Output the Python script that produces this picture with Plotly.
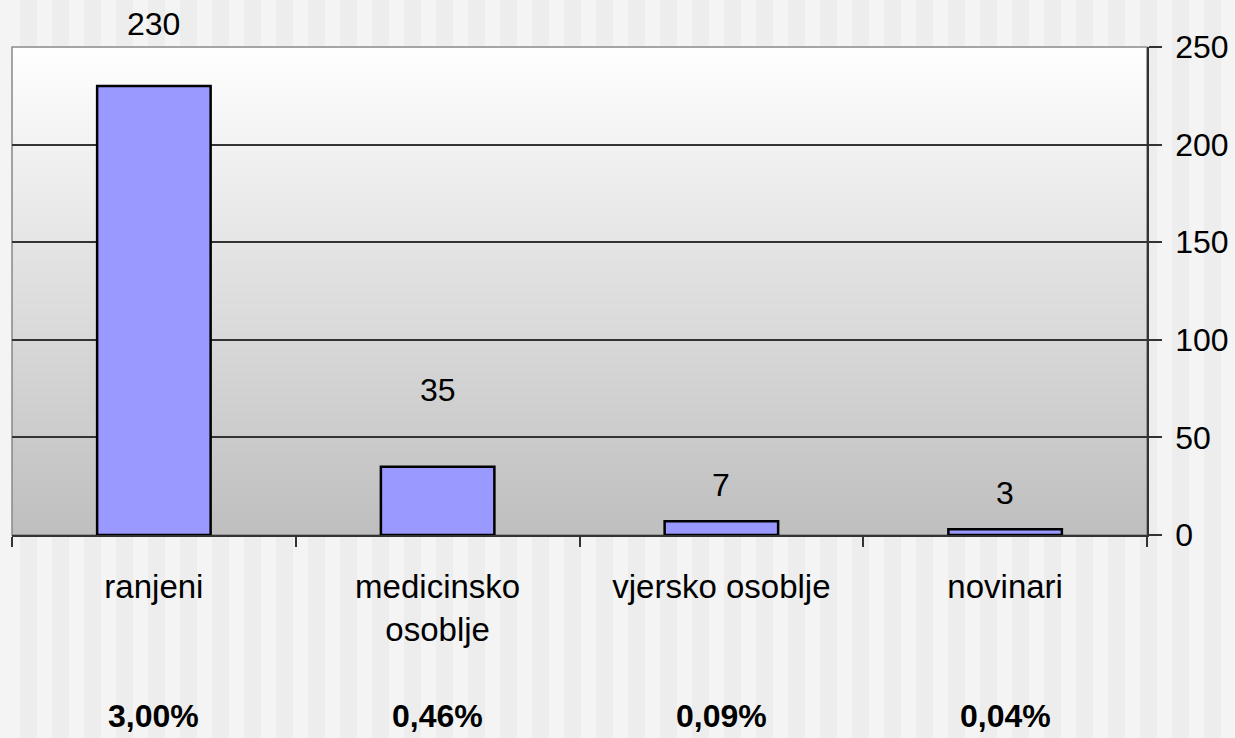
import plotly.graph_objects as go

# ---- data ----
categories = ["ranjeni", "medicinsko<br>osoblje", "vjersko osoblje", "novinari"]
values = [230, 35, 7, 3]
percent_labels = ["3,00%", "0,46%", "0,09%", "0,04%"]
y_ticks = [0, 50, 100, 150, 200, 250]

# ---- styling ----
W, H = 1235, 738
L, R, T, B = 12, 88, 47, 203
FONT = "Liberation Sans, Arial, sans-serif"
label_shift = [42, 57, 16, 16]  # pixel offsets of the value labels above bars
plot_w = W - L - R

fig = go.Figure(
    go.Bar(
        x=categories,
        y=values,
        width=0.4,
        marker=dict(color="#9999FF", line=dict(color="#000000", width=2.5)),
        hoverinfo="x+y",
    )
)

shapes = []
# striped slide background (decoration)
px = 20
while px < W:
    x0 = (px - L) / plot_w
    x1 = (px + 17 - L) / plot_w
    shapes.append(dict(type="rect", xref="paper", yref="paper", x0=x0, x1=x1,
                       y0=-B / (H - T - B) - 0.05, y1=1 + T / (H - T - B) + 0.05,
                       fillcolor="#EDEDED", line=dict(width=0), layer="below"))
    px += 32

# gradient plot area (decoration)
n = 60
for i in range(n):
    f0, f1 = i / n, (i + 1) / n
    v = int(round(190 + 65 * ((f0 + f1) / 2)))
    col = f"rgb({v},{v},{v})"
    shapes.append(dict(type="rect", xref="x domain", yref="y domain", x0=0, x1=1,
                       y0=f0, y1=f1 + 0.002, fillcolor=col, line=dict(width=0), layer="below"))
# gray border (top/left)
shapes.append(dict(type="rect", xref="x domain", yref="y domain", x0=0, x1=1, y0=0, y1=1,
                   line=dict(color="#888888", width=1.5), layer="below"))

annotations = []
for c, v, s in zip(categories, values, label_shift):
    annotations.append(dict(x=c, y=v, xref="x", yref="y", text=str(v), showarrow=False,
                            yanchor="bottom", yshift=s,
                            font=dict(family=FONT, size=32, color="#000000")))
for c, p in zip(categories, percent_labels):
    annotations.append(dict(x=c, y=0, xref="x", yref="paper", text=f"<b>{p}</b>",
                            showarrow=False, yanchor="middle", yshift=-181,
                            font=dict(family=FONT, size=32, color="#000000")))

fig.update_layout(
    width=W, height=H,
    margin=dict(l=L, r=R, t=T, b=B, autoexpand=False),
    paper_bgcolor="#F4F4F4",
    plot_bgcolor="rgba(0,0,0,0)",
    showlegend=False,
    bargap=0.6,
    shapes=shapes,
    annotations=annotations,
    font=dict(family=FONT, size=32, color="#000000"),
    xaxis=dict(
        type="category",
        tickson="boundaries",
        ticks="outside", ticklen=10, tickwidth=1.5, tickcolor="#333333",
        showline=True, linecolor="#333333", linewidth=1.5,
        showgrid=False,
        tickfont=dict(family=FONT, size=33, color="#000000"),
        ticklabelstandoff=22,
        automargin=False,
        fixedrange=True,
    ),
    yaxis=dict(
        side="right",
        range=[0, 250],
        tickvals=y_ticks,
        ticks="outside", ticklen=13, tickwidth=1.5, tickcolor="#333333",
        showline=True, linecolor="#333333", linewidth=1.5,
        showgrid=True, gridcolor="#333333", gridwidth=1.5,
        zeroline=False,
        tickfont=dict(family=FONT, size=32, color="#000000"),
        ticklabelstandoff=7,
        automargin=False,
        fixedrange=True,
    ),
)

fig.write_html(
    "out.html",
    config={"displayModeBar": False},
    post_script="document.body.style.margin='0';document.body.style.overflow='hidden';",
)
